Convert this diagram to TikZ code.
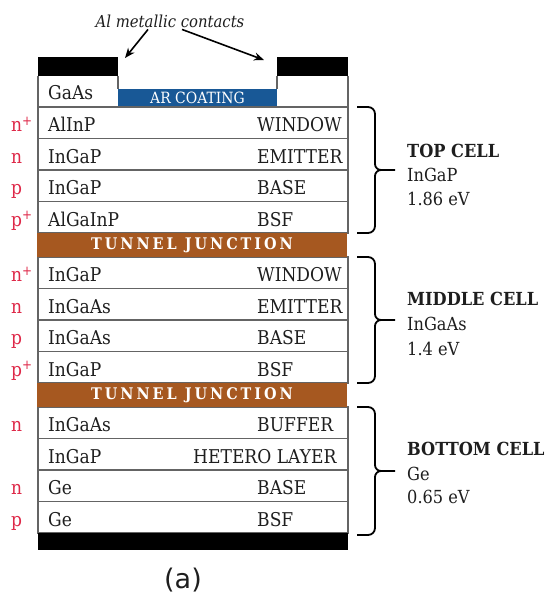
\documentclass[tikz,border=0pt]{standalone}
\usepackage{fontspec}
\setmainfont{DejaVu Serif}[FakeStretch=0.9]
\newfontfamily\sansfnt{DejaVu Sans}
\usetikzlibrary{arrows.meta}
\definecolor{tjbrown}{RGB}{166,88,32}
\definecolor{arblue}{RGB}{24,88,150}
\definecolor{dopred}{RGB}{222,40,72}
\definecolor{sepgrey}{RGB}{100,100,100}
\definecolor{inkgrey}{RGB}{30,30,30}
\newcommand\cellbrace[3]{%
  \draw[bracestyle] (357,#1) -- (368,#1) to[out=0,in=90] (375,{#1+7}) -- (375,{#2-6})
    to[out=-90,in=180] (381,#2) -- (395,#2);
  \draw[bracestyle] (381,#2) to[out=180,in=90] (375,{#2+6}) -- (375,{#3-7})
    to[out=-90,in=0] (368,#3) -- (357,#3);
}
\begin{document}
\begin{tikzpicture}[x=1pt,y=-1pt,
  layer/.style={draw=sepgrey, line width=1.2pt, minimum width=310pt, minimum height=31.5pt, inner sep=0pt, outer sep=0pt},
  rowtext/.style={anchor=base west, inner sep=0pt, text=inkgrey, font=\fontsize{19}{21}\selectfont},
  doptext/.style={anchor=base west, inner sep=0pt, text=dopred, font=\fontsize{19}{21}\selectfont},
  tjband/.style={fill=tjbrown, minimum width=310pt, minimum height=24pt, inner sep=0pt, outer sep=0pt, text=white, font=\bfseries\fontsize{16}{18}\selectfont},
  celltext/.style={anchor=base west, inner sep=0pt, text=inkgrey, font=\fontsize{18}{20}\selectfont},
  bracestyle/.style={line width=1.8pt, black},
  arr/.style={line width=1.6pt, -{Stealth[length=10pt,width=8pt]}},
  contact/.style={fill=black, inner sep=0pt, outer sep=0pt}
]
\useasboundingbox (0,0) rectangle (549,595);

% top contacts and GaAs cap
\node[contact, minimum width=80pt, minimum height=19pt] (cl) at (78,66.5) {};
\node[contact, minimum width=71pt, minimum height=19pt] (cr) at (312.5,66.5) {};
\node[fill=arblue, minimum width=159pt, minimum height=18pt, inner sep=0pt, outer sep=0pt, text=white, font=\fontsize{15.5}{17}\selectfont] (ar) at (197.5,98) {AR COATING};
\draw[sepgrey, line width=1.2pt] (cl.south west) -- (38,107);
\draw[sepgrey, line width=1.2pt] (cr.south east) -- (348,107);
\draw[sepgrey, line width=1.2pt] (cl.south east) -- (ar.north west);
\draw[sepgrey, line width=1.2pt] (cr.south west) -- (ar.north east);
\node[rowtext] (gaas) at (48,99) {GaAs};

% layer rows
\foreach \nm/\yc/\m/\r/\rx/\d in {
  a1/122.75/AlInP/WINDOW/257/{n\textsuperscript{+}},
  a2/154.25/InGaP/EMITTER/257/n,
  a3/185.75/InGaP/BASE/257/p,
  a4/217.25/AlGaInP/BSF/257/{p\textsuperscript{+}},
  b1/272.75/InGaP/WINDOW/257/{n\textsuperscript{+}},
  b2/304.25/InGaAs/EMITTER/257/n,
  b3/335.75/InGaAs/BASE/257/p,
  b4/367.25/InGaP/BSF/257/{p\textsuperscript{+}},
  c1/422.75/InGaAs/BUFFER/257/n,
  c2/454.25/InGaP/HETERO LAYER/193/{},
  c3/485.75/Ge/BASE/257/n,
  c4/517.25/Ge/BSF/257/p}{
  \node[layer] (\nm) at (193,\yc) {};
  \node[rowtext] (\nm m) at (48,\yc+9) {\m};
  \node[rowtext] (\nm r) at (\rx,\yc+9) {\r};
  \node[doptext] (\nm d) at (11,\yc+9) {\d};
}

% tunnel junctions
\node[tjband] (tj1) at (192,245) {T\kern3pt U\kern3pt N\kern3pt N\kern3pt E\kern3pt L\kern8pt J\kern3pt U\kern3pt N\kern3pt C\kern3pt T\kern3pt I\kern3pt O\kern3pt N};
\node[tjband] (tj2) at (192,395) {T\kern3pt U\kern3pt N\kern3pt N\kern3pt E\kern3pt L\kern8pt J\kern3pt U\kern3pt N\kern3pt C\kern3pt T\kern3pt I\kern3pt O\kern3pt N};

% bottom contact
\node[contact, minimum width=310pt, minimum height=17pt] (cb) at (193,541.5) {};

% contacts label and arrows
\node[anchor=base, inner sep=0pt, text=inkgrey, font=\itshape\fontsize{16.5}{18}\selectfont] (al) at (170,27) {Al metallic contacts};
\coordinate (tipL) at (125,58);
\coordinate (tipR) at (264,60);
\draw[arr] ([xshift=-22pt,yshift=-2pt]al.south) -- (tipL);
\draw[arr] ([xshift=12pt,yshift=-2pt]al.south) -- (tipR);

% braces
\cellbrace{107}{170}{233}
\cellbrace{257}{320}{383}
\cellbrace{407}{471}{535}

% cell labels
\node[celltext, font=\bfseries\fontsize{18}{20}\selectfont] (topc) at (407,157) {TOP CELL};
\node[celltext] (topm) at (407,181) {InGaP};
\node[celltext] (tope) at (407,205) {1.86 eV};
\node[celltext, font=\bfseries\fontsize{18}{20}\selectfont] (midc) at (407,305) {MIDDLE CELL};
\node[celltext] (midm) at (407,330) {InGaAs};
\node[celltext] (mide) at (407,355) {1.4 eV};
\node[celltext, font=\bfseries\fontsize{18}{20}\selectfont] (botc) at (407,455) {BOTTOM CELL};
\node[celltext] (botm) at (407,480) {Ge};
\node[celltext] (bote) at (407,503) {0.65 eV};

% caption
\node[anchor=base, inner sep=0pt, text=inkgrey, font=\sansfnt\fontsize{27}{29}\selectfont] (cap) at (183,588) {(a)};
\end{tikzpicture}
\end{document}
